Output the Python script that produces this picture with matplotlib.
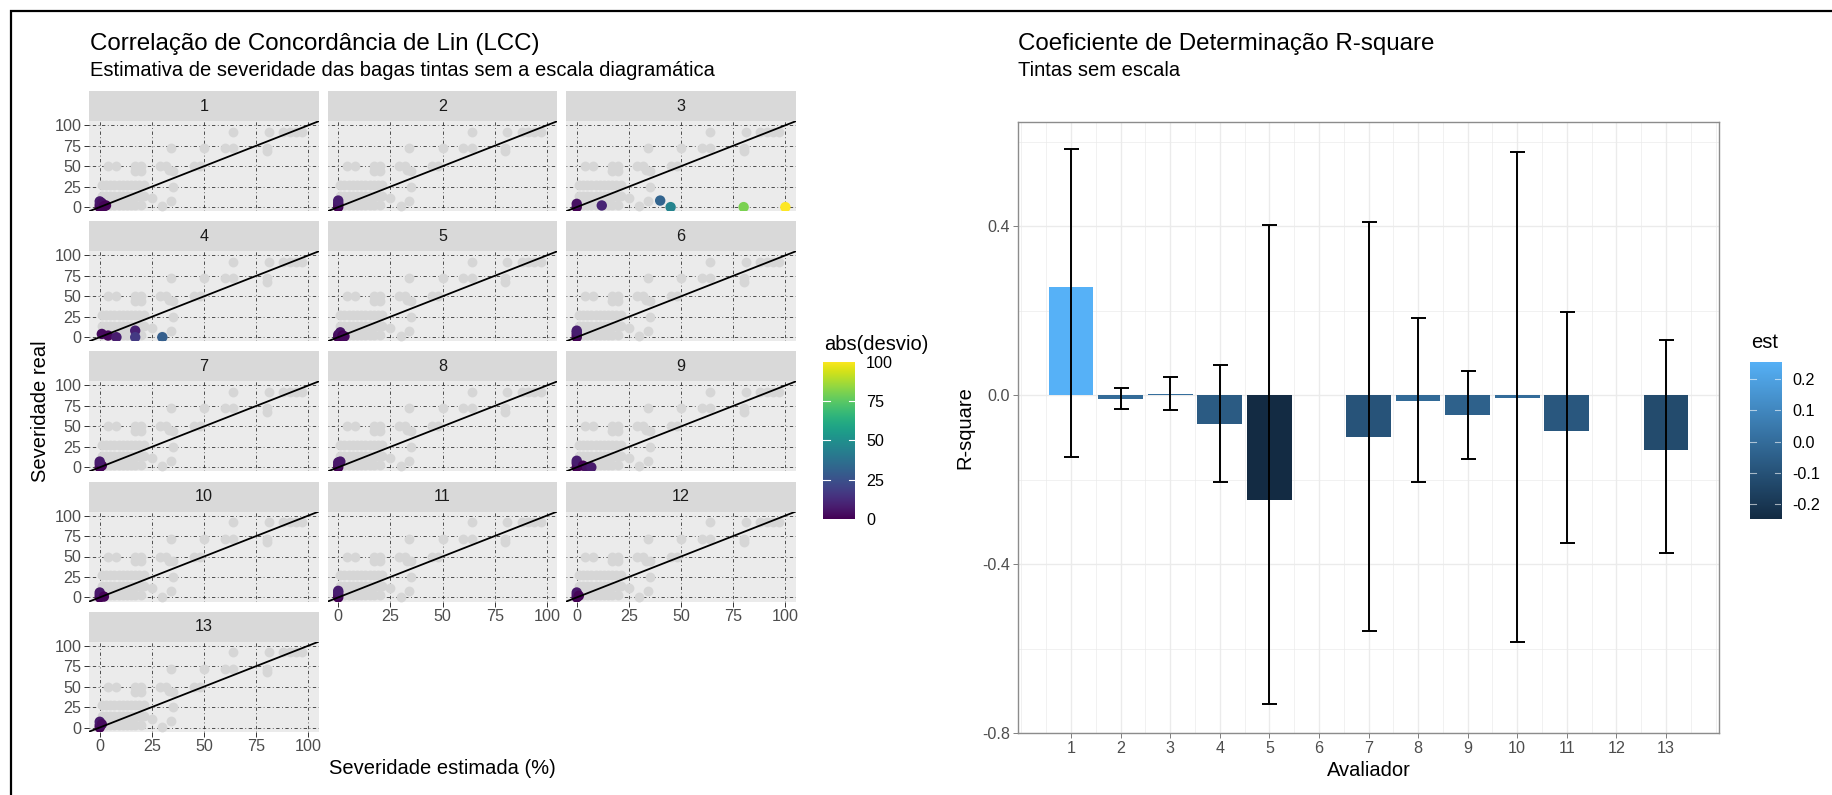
import numpy as np
import matplotlib.pyplot as plt
from matplotlib.colors import LinearSegmentedColormap, Normalize
from matplotlib.patches import Rectangle

plt.rcParams['font.family'] = ['Liberation Sans', 'DejaVu Sans']

# Nuvem de fundo (todas as estimativas): severidade estimada x severidade real
fundo_est = [64, 81, 88, 91, 94, 97,
             34, 50, 60, 64, 80, 80,
             4, 8, 17, 20, 29, 32, 45, 48,
             17, 20, 33, 35,
             1, 3, 5, 7, 9, 11, 13, 15, 17, 19, 21, 35,
             1, 3, 5, 7, 9, 11, 13, 15, 17, 19, 21, 25, 34,
             1, 3, 5, 7, 9, 11, 13, 15, 17, 20, 30]
fundo_real = [92, 92, 92, 92, 92, 92,
              72, 72, 72, 72, 72, 68,
              50, 50, 50, 50, 50, 50, 50, 50,
              44, 44, 45, 44,
              27, 27, 27, 27, 27, 27, 27, 27, 27, 27, 27, 25,
              14, 14, 14, 14, 14, 14, 14, 14, 14, 14, 14, 11, 8,
              3, 3, 3, 3, 3, 3, 3, 3, 3, 3, 1]

# Estimativas de cada avaliador (sem escala)
avaliadores = list(range(1, 14))
sev_estimada = [[0, 0, 0, 1, 2, 3],
                [0, 0, 0, 0],
                [0, 0, 12, 40, 45, 80, 100],
                [1, 4, 8, 17, 17, 30],
                [0, 0, 1, 2, 3],
                [0, 0, 0, 0],
                [0, 0, 1, 0],
                [0, 0, 0, 1],
                [0, 0, 0, 3, 5, 7],
                [0, 0, 0, 2],
                [0, 0, 0, 0],
                [0, 0, 0, 1],
                [0, 0, 0, 1]]
sev_real = [[0, 3, 7, 5, 1, 2],
            [0, 3, 5, 8],
            [0, 4, 2, 8, 0, 0, 0],
            [4, 2, 0, 8, 0, 0],
            [0, 3, 6, 2, 1],
            [0, 3, 6, 8],
            [0, 4, 2, 7],
            [0, 3, 6, 7],
            [0, 5, 8, 2, 0, 0],
            [0, 3, 6, 1],
            [0, 3, 6, 8],
            [0, 3, 6, 2],
            [0, 3, 7, 4]]

# R-square por avaliador (6 e 12 sem valor)
r2_est = [0.255, -0.009, 0.003, -0.069, -0.249, np.nan, -0.099,
          -0.013, -0.047, -0.006, -0.084, np.nan, -0.129]
r2_inf = [-0.147, -0.034, -0.036, -0.207, -0.732, np.nan, -0.559,
          -0.205, -0.152, -0.585, -0.350, np.nan, -0.373]
r2_sup = [0.582, 0.017, 0.043, 0.070, 0.402, np.nan, 0.409,
          0.182, 0.057, 0.576, 0.196, np.nan, 0.131]

W, H = 1833, 795
fig = plt.figure(figsize=(W / 100, H / 100), dpi=100)


def eixo_px(x, y, w, h):
    # cria um eixo a partir de coordenadas em pixels (origem no canto superior esquerdo)
    return fig.add_axes([x / W, 1 - (y + h) / H, w / W, h / H])


# moldura externa
fig.add_artist(Rectangle((11 / W, -0.1), 1.5, 1.1 - 11 / H, transform=fig.transFigure,
                         fill=False, edgecolor='black', linewidth=1.6))

cinza_txt = '#4D4D4D'
viridis = plt.get_cmap('viridis')
norm_desvio = Normalize(0, 100)
marcas = [0, 25, 50, 75, 100]

# ---------------- Painéis LCC ----------------
for i, av in enumerate(avaliadores):
    lin, col = divmod(i, 3)
    x0 = 89.3 + col * 238.5
    y0 = 91.2 + lin * 130.1

    tira = eixo_px(x0, y0, 229.5, 30)
    tira.set_facecolor('#D9D9D9')
    tira.set_xticks([])
    tira.set_yticks([])
    for s in tira.spines.values():
        s.set_visible(False)
    tira.text(0.5, 0.5, str(av), ha='center', va='center', fontsize=11.6, color='#1A1A1A')

    ax = eixo_px(x0, y0 + 30, 229.5, 90)
    ax.set_facecolor('#EBEBEB')
    for s in ax.spines.values():
        s.set_visible(False)
    ax.set_xlim(-5, 105)
    ax.set_ylim(-5, 105)
    ax.set_xticks(marcas)
    ax.set_yticks(marcas)
    ax.grid(True, color='#333333', linewidth=0.6, linestyle=(0, (1, 3, 4, 3)))
    ax.set_axisbelow(True)

    ax.scatter(fundo_est, fundo_real, s=50, color='#D6D6D6', linewidths=0, zorder=2)
    est = np.array(sev_estimada[i])
    real = np.array(sev_real[i])
    ax.scatter(est, real, s=56, c=np.abs(est - real), cmap=viridis, norm=norm_desvio,
               linewidths=0, zorder=3)
    ax.plot([-5, 105], [-5, 105], color='black', linewidth=1.3, zorder=4)

    ax.tick_params(length=3.6, width=0.7, color='#333333', labelsize=11.6,
                   labelcolor=cinza_txt, pad=2)
    if col != 0:
        ax.tick_params(axis='y', left=False, labelleft=False)
    if i < len(avaliadores) - 3:
        ax.tick_params(axis='x', bottom=False, labelbottom=False)

fig.text(90 / W, 1 - 50 / H, 'Correlação de Concordância de Lin (LCC)', fontsize=17.4,
         va='baseline', ha='left')
fig.text(90 / W, 1 - 76 / H, 'Estimativa de severidade das bagas tintas sem a escala diagramática',
         fontsize=14.5, va='baseline', ha='left')
fig.text(40 / W, 1 - 411 / H, 'Severidade real', rotation=90, fontsize=14.5,
         ha='center', va='center')
fig.text(442 / W, 1 - 768 / H, 'Severidade estimada (%)', fontsize=14.5,
         ha='center', va='center')

# barra de cores abs(desvio)
cax = eixo_px(823.3, 361.7, 31.7, 157.3)
cax.imshow(np.linspace(0, 100, 256).reshape(-1, 1), cmap=viridis, aspect='auto',
           origin='lower', extent=[0, 1, 0, 100])
cax.set_xlim(0, 1)
cax.set_ylim(0, 100)
for v in [25, 50, 75]:
    cax.plot([0, 0.2], [v, v], color='white', linewidth=0.8)
    cax.plot([0.8, 1], [v, v], color='white', linewidth=0.8)
cax.set_xticks([])
cax.set_yticks(marcas)
cax.yaxis.tick_right()
cax.tick_params(length=0, pad=8, labelsize=11.6)
for s in cax.spines.values():
    s.set_visible(False)
fig.text(824 / W, 1 - 345 / H, 'abs(desvio)', fontsize=14.5, ha='left', va='center')

# ---------------- Painel R-square ----------------
r2_est = np.array(r2_est)
r2_inf = np.array(r2_inf)
r2_sup = np.array(r2_sup)
x = np.array(avaliadores)
ok = ~np.isnan(r2_est)

azul = LinearSegmentedColormap.from_list('azul', ['#132B43', '#56B1F7'])
norm_est = Normalize(np.nanmin(r2_est), np.nanmax(r2_est))

bx = eixo_px(1018, 121.7, 701, 611.3)
bx.set_xlim(-0.07, 14.07)
bx.set_ylim(-0.8, 0.647)
bx.set_xticks(x)
bx.set_xticks(np.arange(0, 14.01, 0.5), minor=True)
bx.set_yticks([-0.8, -0.4, 0.0, 0.4])
bx.set_yticks([-0.6, -0.2, 0.2, 0.6], minor=True)
bx.set_yticklabels(['-0.8', '-0.4', '0.0', '0.4'])
bx.grid(True, which='major', color='#EBEBEB', linewidth=1.0)
bx.grid(True, which='minor', color='#EBEBEB', linewidth=0.5)
bx.set_axisbelow(True)
bx.tick_params(which='minor', length=0)
bx.tick_params(which='major', length=3.6, width=0.7, color='#7F7F7F', labelsize=11.6,
               labelcolor=cinza_txt, pad=2)
for s in bx.spines.values():
    s.set_color('#8C8C8C')
    s.set_linewidth(1.0)

bx.bar(x[ok], r2_est[ok], width=0.9, color=azul(norm_est(r2_est[ok])), zorder=2)
bx.errorbar(x[ok], r2_est[ok], yerr=[r2_est[ok] - r2_inf[ok], r2_sup[ok] - r2_est[ok]],
            fmt='none', ecolor='black', elinewidth=1.4, capsize=5.4, capthick=1.4, zorder=3)

bx.set_xlabel('Avaliador', fontsize=14.5, labelpad=4)
bx.set_ylabel('R-square', fontsize=14.5, labelpad=6)

fig.text(1018 / W, 1 - 50 / H, 'Coeficiente de Determinação R-square', fontsize=17.4,
         va='baseline', ha='left')
fig.text(1018 / W, 1 - 76 / H, 'Tintas sem escala', fontsize=14.5, va='baseline', ha='left')

# barra de cores est
ex = eixo_px(1750, 362, 31, 157.3)
lo, hi = np.nanmin(r2_est), np.nanmax(r2_est)
ex.imshow(np.linspace(lo, hi, 256).reshape(-1, 1), cmap=azul, norm=norm_est, aspect='auto',
          origin='lower', extent=[0, 1, lo, hi])
ex.set_xlim(0, 1)
ex.set_ylim(lo, hi)
marcas_est = [-0.2, -0.1, 0.0, 0.1, 0.2]
for v in marcas_est:
    ex.plot([0, 0.2], [v, v], color='white', linewidth=0.8, alpha=0.6)
    ex.plot([0.8, 1], [v, v], color='white', linewidth=0.8, alpha=0.6)
ex.set_xticks([])
ex.set_yticks(marcas_est)
ex.set_yticklabels(['-0.2', '-0.1', '0.0', '0.1', '0.2'])
ex.yaxis.tick_right()
ex.tick_params(length=0, pad=8, labelsize=11.6)
for s in ex.spines.values():
    s.set_visible(False)
fig.text(1750.7 / W, 1 - 343 / H, 'est', fontsize=14.5, ha='left', va='center')

fig.savefig('out.png', dpi=100)
